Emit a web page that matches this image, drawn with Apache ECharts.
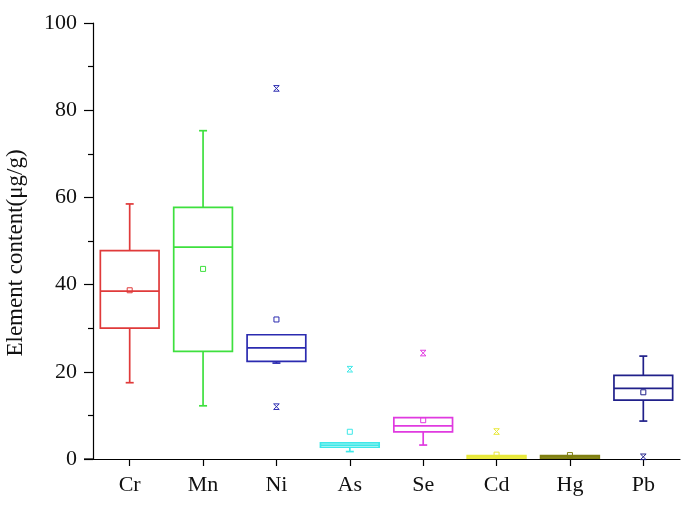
<!DOCTYPE html>
<html><head><meta charset="utf-8">
<script src="https://cdn.jsdelivr.net/npm/echarts@6/dist/echarts.min.js"></script>
<style>html,body{margin:0;padding:0;background:#fff}#c{width:685px;height:511px}</style>
</head><body><div id="c"></div>
<script>
var categories = ['Cr','Mn','Ni','As','Se','Cd','Hg','Pb'];
var colors = ['#e03a3a','#3ee03e','#2b2bb0','#3ee8e8','#e03ae0','#e8e83a','#7f7f10','#20208a'];
var whiskerLow  = [17.5, 12.2, 22.0, 1.7, 3.2, 0.1, 0.1, 8.7];
var q1          = [30.0, 24.7, 22.4, 2.7, 6.2, 0.2, 0.2, 13.5];
var median      = [38.5, 48.6, 25.5, 3.2, 7.6, 0.5, 0.5, 16.2];
var q3          = [47.8, 57.7, 28.5, 3.7, 9.5, 0.8, 0.8, 19.2];
var whiskerHigh = [58.5, 75.3, 28.5, 3.7, 9.6, 0.8, 0.8, 23.6];
var means       = [38.7, 43.6, 32.0, 6.25, 8.9, 1.0, 0.9, 15.3];
var outlierCat  = [2, 2, 3, 4, 5, 7];
var outlierVal  = [85.0, 12.0, 20.6, 24.3, 6.3, 0.5];
var yTicks = [0, 20, 40, 60, 80, 100];

var boxData = categories.map(function(c, i){
  return [i, whiskerLow[i], q1[i], median[i], q3[i], whiskerHigh[i]];
});
var meanData = categories.map(function(c, i){ return [i, means[i]]; });
var outData = outlierCat.map(function(c, i){ return [c, outlierVal[i]]; });

var chart = echarts.init(document.getElementById('c'), null, {renderer:'canvas'});
var font = 'Liberation Serif';
chart.setOption({
  animation: false,
  grid: {left: 93, right: 5, top: 23, bottom: 52, containLabel: false, outerBoundsMode: 'none'},
  graphic: [{type: 'line', shape: {x1: 84, y1: 459, x2: 93, y2: 459}, style: {stroke: '#000', lineWidth: 1.2}}],
  xAxis: {
    type: 'category', data: categories, boundaryGap: true,
    axisLine: {show: true, lineStyle: {color: '#000', width: 1.2}},
    axisTick: {show: true, alignWithLabel: true, length: 7, lineStyle: {color: '#000', width: 1.2}},
    axisLabel: {fontFamily: font, fontSize: 22, color: '#111', margin: 15},
    splitLine: {show: false}
  },
  yAxis: {
    type: 'value', min: yTicks[0], max: yTicks[yTicks.length-1], interval: 20,
    name: 'Element content(μg/g)', nameLocation: 'middle', nameGap: 66,
    nameTextStyle: {fontFamily: font, fontSize: 23, color: '#111', padding: [0, 24, 0, 0]},
    axisLine: {show: true, lineStyle: {color: '#000', width: 1.2}},
    axisTick: {show: true, length: 9, lineStyle: {color: '#000', width: 1.2}},
    minorTick: {show: true, splitNumber: 2, length: 5, lineStyle: {color: '#000', width: 1.2}},
    axisLabel: {fontFamily: font, fontSize: 22, color: '#111', margin: 16},
    splitLine: {show: false}
  },
  series: [
    {
      type: 'custom', data: boxData,
      encode: {x: 0, y: [1,2,3,4,5]},
      renderItem: function(params, api){
        var i = api.value(0);
        var col = colors[i];
        var bw = api.size([1, 0])[0] * 0.8;
        var cx = api.coord([i, 0])[0];
        var yl = api.coord([i, api.value(1)])[1];
        var y1 = api.coord([i, api.value(2)])[1];
        var ym = api.coord([i, api.value(3)])[1];
        var y3 = api.coord([i, api.value(4)])[1];
        var yh = api.coord([i, api.value(5)])[1];
        var st = {stroke: col, lineWidth: 1.7, fill: null};
        var cap = 4;
        var ch = [];
        ch.push({type:'rect', shape:{x: cx-bw/2, y: y3, width: bw, height: y1-y3}, style: st});
        ch.push({type:'line', shape:{x1: cx-bw/2, y1: ym, x2: cx+bw/2, y2: ym}, style: st});
        if (yh < y3 - 0.5) {
          ch.push({type:'line', shape:{x1: cx, y1: y3, x2: cx, y2: yh}, style: st});
          ch.push({type:'line', shape:{x1: cx-cap, y1: yh, x2: cx+cap, y2: yh}, style: st});
        }
        if (yl > y1 + 0.5) {
          ch.push({type:'line', shape:{x1: cx, y1: y1, x2: cx, y2: yl}, style: st});
          ch.push({type:'line', shape:{x1: cx-cap, y1: yl, x2: cx+cap, y2: yl}, style: st});
        }
        return {type:'group', children: ch};
      },
      z: 2
    },
    {
      type: 'custom', data: meanData,
      renderItem: function(params, api){
        var i = api.value(0);
        var p = api.coord([i, api.value(1)]);
        return {type:'rect', shape:{x: p[0]-2.5, y: p[1]-2.5, width: 5, height: 5},
          style:{stroke: colors[i], lineWidth: 1, fill: null}};
      },
      z: 3
    },
    {
      type: 'custom', data: outData,
      renderItem: function(params, api){
        var i = api.value(0);
        var p = api.coord([i, api.value(1)]);
        var s = 2.8;
        var st = {stroke: colors[i], lineWidth: 1, fill: null};
        return {type:'group', children:[
          {type:'line', shape:{x1:p[0]-s, y1:p[1]-s, x2:p[0]+s, y2:p[1]+s}, style: st},
          {type:'line', shape:{x1:p[0]+s, y1:p[1]-s, x2:p[0]-s, y2:p[1]+s}, style: st},
          {type:'line', shape:{x1:p[0]-s, y1:p[1]-s, x2:p[0]+s, y2:p[1]-s}, style: st},
          {type:'line', shape:{x1:p[0]-s, y1:p[1]+s, x2:p[0]+s, y2:p[1]+s}, style: st}
        ]};
      },
      z: 3
    }
  ]
});
</script></body></html>
